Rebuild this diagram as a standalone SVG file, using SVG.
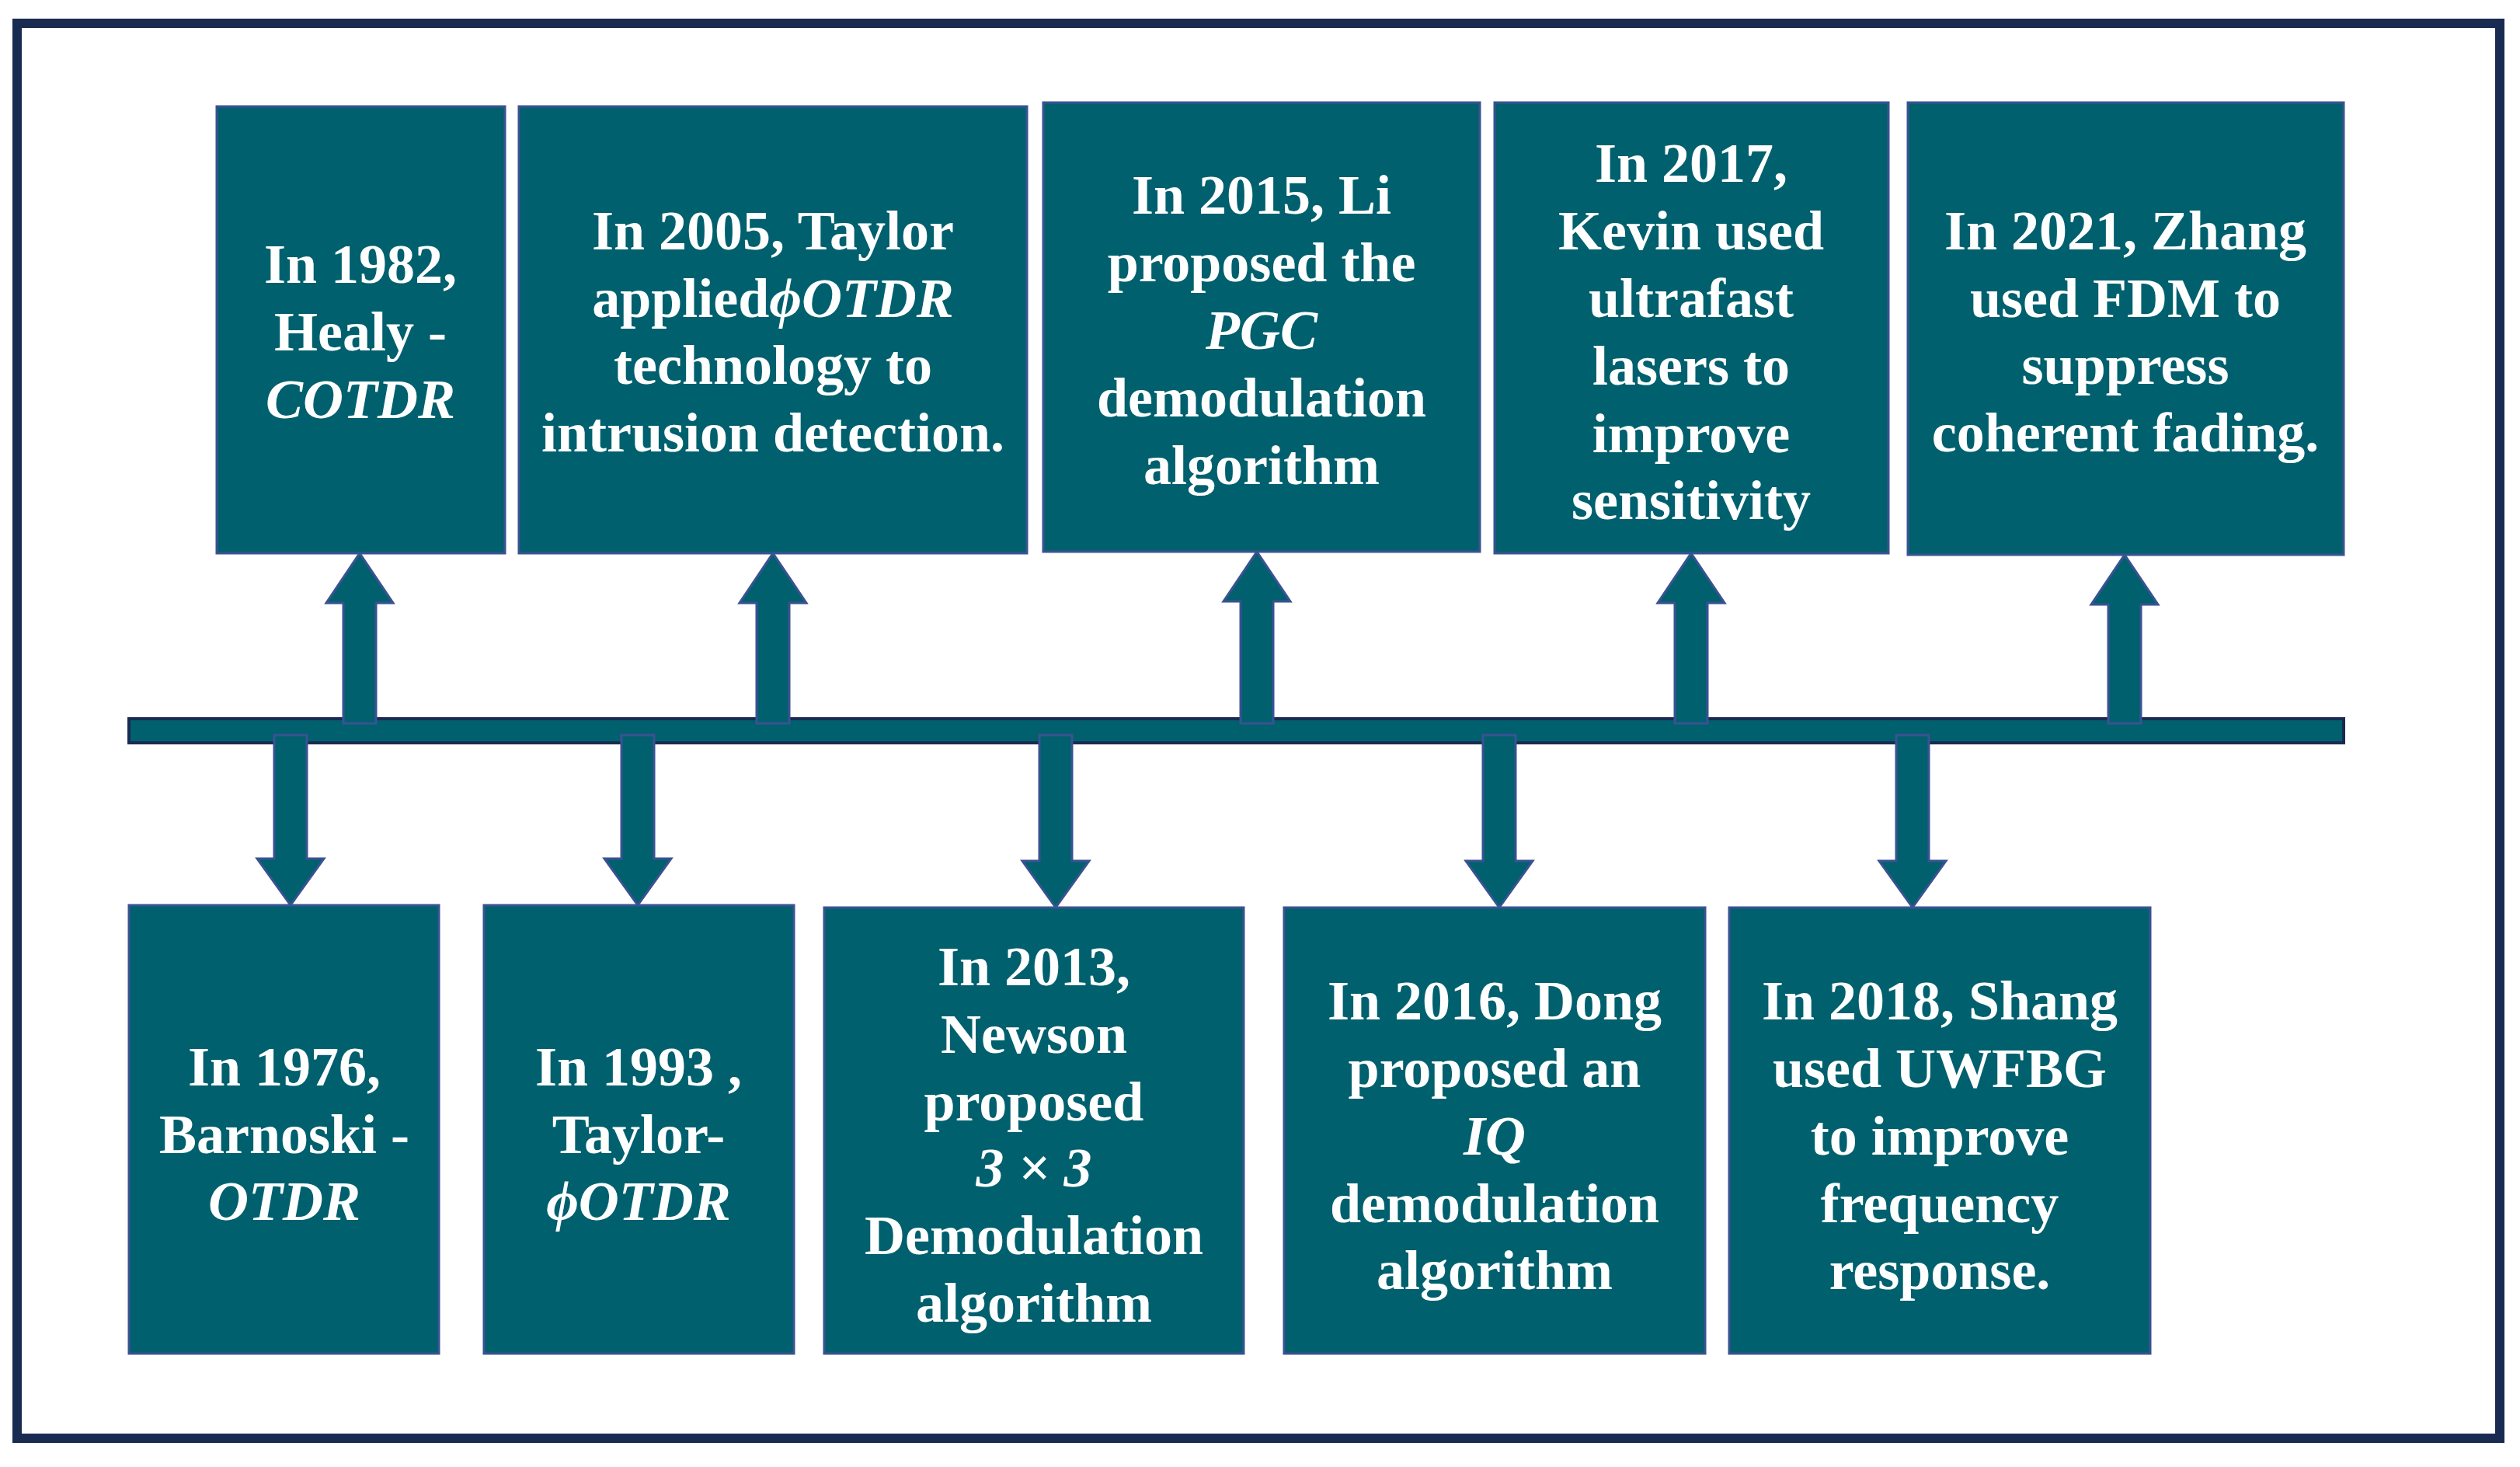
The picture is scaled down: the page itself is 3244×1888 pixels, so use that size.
<svg xmlns="http://www.w3.org/2000/svg" width="3244" height="1888" viewBox="0 0 3244 1888">
<style>
.box{fill:#00606e;stroke:#3a5292;stroke-width:3}
.arr{fill:#00606e;stroke:#3a5292;stroke-width:3}
.bar{fill:#00606e;stroke:#1a2b52;stroke-width:4}
.t{font-family:"Liberation Serif","Times New Roman",serif;font-weight:bold;font-size:72px;fill:#ffffff;text-anchor:middle}
.i{font-style:italic}
</style>
<rect x="0" y="0" width="3244" height="1888" fill="#ffffff"/>
<rect id="frame" x="22" y="30" width="3196" height="1821" fill="none" stroke="#1a2b52" stroke-width="12"/>
<g id="connectors">
<rect class="bar" x="166" y="925" width="2851" height="31"/>
<polygon class="arr" points="463,712 506,776 484,776 484,931 442,931 442,776 420,776"/>
<polygon class="arr" points="995,712 1038,776 1016,776 1016,931 974,931 974,776 952,776"/>
<polygon class="arr" points="1618,710 1661,774 1639,774 1639,931 1597,931 1597,774 1575,774"/>
<polygon class="arr" points="2177,712 2220,776 2198,776 2198,931 2156,931 2156,776 2134,776"/>
<polygon class="arr" points="2735,714 2778,778 2756,778 2756,931 2714,931 2714,778 2692,778"/>
<polygon class="arr" points="374,1165 417,1105 395,1105 395,946 353,946 353,1105 331,1105"/>
<polygon class="arr" points="821,1165 864,1105 842,1105 842,946 800,946 800,1105 778,1105"/>
<polygon class="arr" points="1359,1168 1402,1108 1380,1108 1380,946 1338,946 1338,1108 1316,1108"/>
<polygon class="arr" points="1930,1168 1973,1108 1951,1108 1951,946 1909,946 1909,1108 1887,1108"/>
<polygon class="arr" points="2462,1168 2505,1108 2483,1108 2483,946 2441,946 2441,1108 2419,1108"/>
</g>
<g id="n1982">
<rect class="box" x="279" y="137" width="371" height="575"/>
<text class="t" x="464" y="364">In 1982,</text>
<text class="t" x="464" y="451">Healy -</text>
<text class="t i" x="464" y="538">COTDR</text>
</g>
<g id="n2005">
<rect class="box" x="668" y="137" width="654" height="575"/>
<text class="t" x="995" y="321">In 2005, Taylor</text>
<text class="t" x="995" y="408">applied<tspan class="i">ϕOTDR</tspan></text>
<text class="t" x="995" y="494">technology to</text>
<text class="t" x="995" y="581">intrusion detection.</text>
</g>
<g id="n2015">
<rect class="box" x="1343" y="132" width="562" height="578"/>
<text class="t" x="1624" y="275">In 2015, Li</text>
<text class="t" x="1624" y="362">proposed the</text>
<text class="t i" x="1624" y="449">PGC</text>
<text class="t" x="1624" y="536">demodulation</text>
<text class="t" x="1624" y="623">algorithm</text>
</g>
<g id="n2017">
<rect class="box" x="1924" y="132" width="507" height="580"/>
<text class="t" x="2177" y="234">In 2017,</text>
<text class="t" x="2177" y="321">Kevin used</text>
<text class="t" x="2177" y="408">ultrafast</text>
<text class="t" x="2177" y="495">lasers to</text>
<text class="t" x="2177" y="582">improve</text>
<text class="t" x="2177" y="668">sensitivity</text>
</g>
<g id="n2021">
<rect class="box" x="2456" y="132" width="561" height="582"/>
<text class="t" x="2736" y="321">In 2021, Zhang</text>
<text class="t" x="2736" y="408">used FDM to</text>
<text class="t" x="2736" y="494">suppress</text>
<text class="t" x="2736" y="581">coherent fading.</text>
</g>
<g id="n1976">
<rect class="box" x="166" y="1165" width="399" height="577"/>
<text class="t" x="366" y="1397">In 1976,</text>
<text class="t" x="366" y="1484">Barnoski -</text>
<text class="t i" x="366" y="1570">OTDR</text>
</g>
<g id="n1993">
<rect class="box" x="623" y="1165" width="399" height="577"/>
<text class="t" x="822" y="1397">In 1993 ,</text>
<text class="t" x="822" y="1484">Taylor-</text>
<text class="t i" x="822" y="1570">ϕOTDR</text>
</g>
<g id="n2013">
<rect class="box" x="1061" y="1168" width="540" height="574"/>
<text class="t" x="1331" y="1268">In 2013,</text>
<text class="t" x="1331" y="1355">Newson</text>
<text class="t" x="1331" y="1442">proposed</text>
<text class="t i" x="1331" y="1527">3 × 3</text>
<text class="t" x="1331" y="1614">Demodulation</text>
<text class="t" x="1331" y="1701">algorithm</text>
</g>
<g id="n2016">
<rect class="box" x="1653" y="1168" width="542" height="574"/>
<text class="t" x="1924" y="1312">In 2016, Dong</text>
<text class="t" x="1924" y="1399">proposed an</text>
<text class="t i" x="1924" y="1486">IQ</text>
<text class="t" x="1924" y="1573">demodulation</text>
<text class="t" x="1924" y="1659">algorithm</text>
</g>
<g id="n2018">
<rect class="box" x="2226" y="1168" width="542" height="574"/>
<text class="t" x="2497" y="1312">In 2018, Shang</text>
<text class="t" x="2497" y="1399">used UWFBG</text>
<text class="t" x="2497" y="1486">to improve</text>
<text class="t" x="2497" y="1573">frequency</text>
<text class="t" x="2497" y="1659">response.</text>
</g>
</svg>
